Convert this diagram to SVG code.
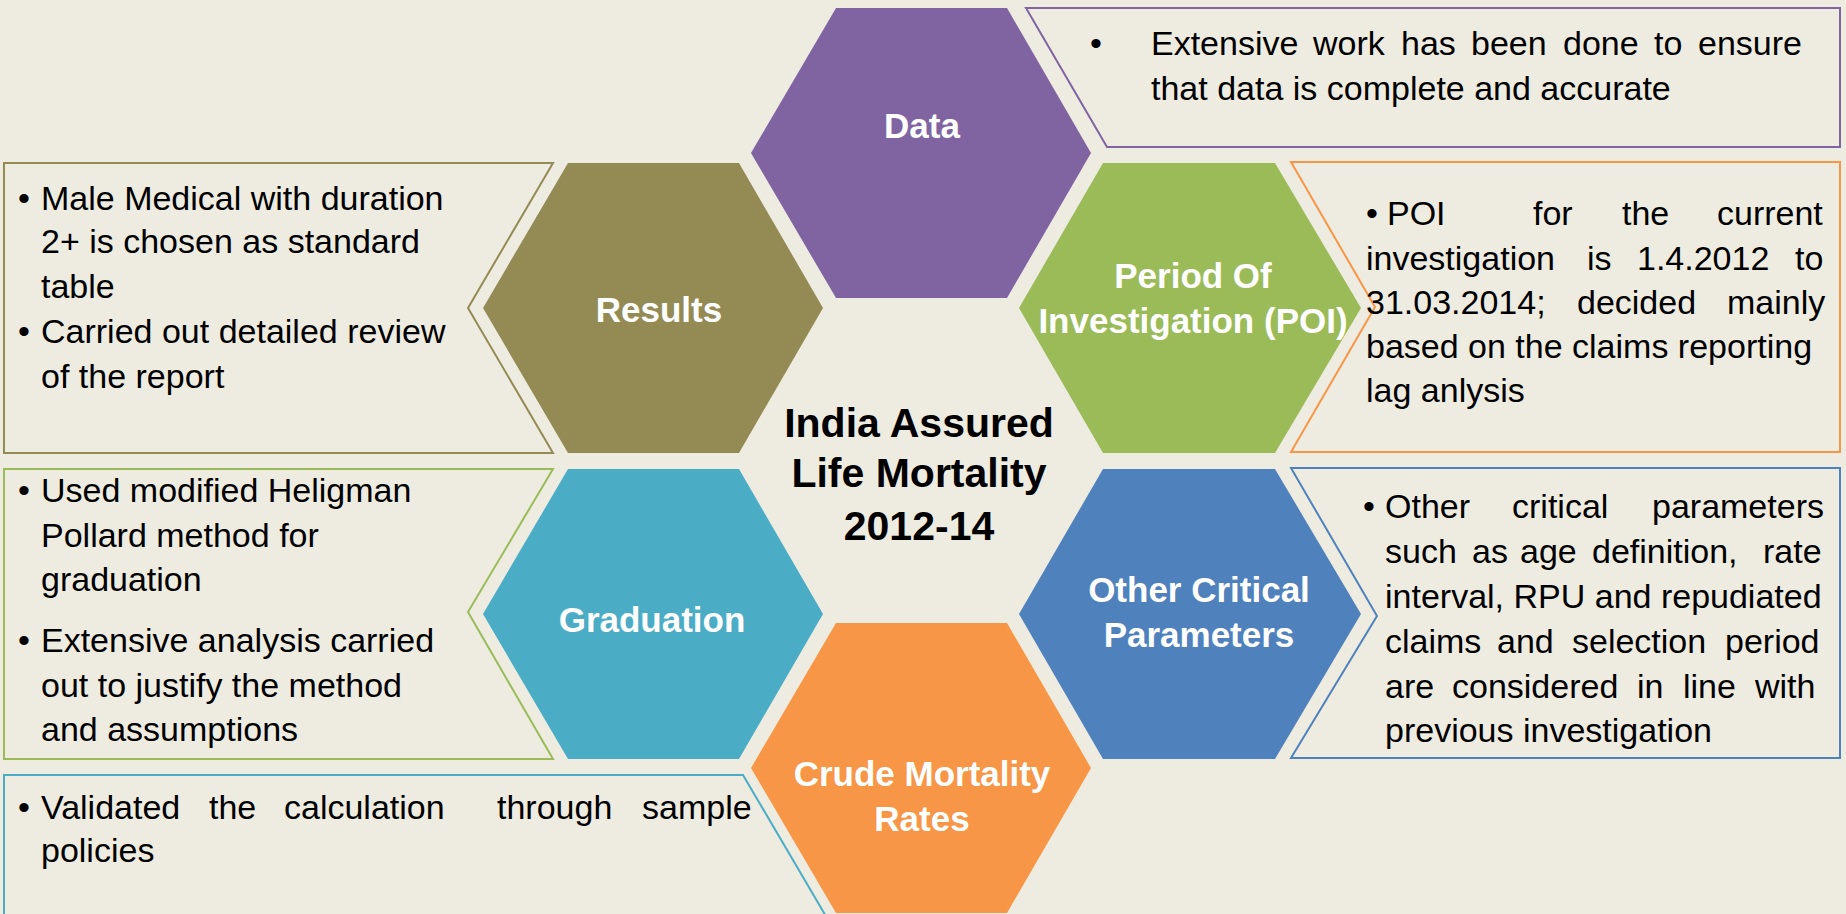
<svg xmlns="http://www.w3.org/2000/svg" width="1846" height="914" viewBox="0 0 1846 914">
  <style>
    .hex-label { font-family: "Liberation Sans", Arial, sans-serif; font-weight: bold; font-size: 35px; fill: #ffffff; text-anchor: middle; }
    .title { font-family: "Liberation Sans", Arial, sans-serif; font-weight: bold; font-size: 41px; fill: #000000; text-anchor: middle; }
    .body { font-family: "Liberation Sans", Arial, sans-serif; font-size: 34px; fill: #000000; }
    .box { fill: none; stroke-width: 2; }
  </style>
  <rect width="1846" height="914" fill="#EEECE1"/>

  <!-- hexagon nodes -->
  <g id="node-data">
    <polygon points="751,153 836,8 1007,8 1091,153 1007,298 836,298" fill="#8064A2"/>
    <text class="hex-label" x="922" y="138">Data</text>
  </g>
  <g id="node-poi">
    <polygon points="1019,308 1103,163 1275,163 1361,308 1275,453 1103,453" fill="#9BBB59"/>
    <text class="hex-label" x="1193" y="288">Period Of</text>
    <text class="hex-label" x="1193" y="333">Investigation (POI)</text>
  </g>
  <g id="node-results">
    <polygon points="483,308 568,163 739,163 823,308 739,453 568,453" fill="#948A54"/>
    <text class="hex-label" x="659" y="322">Results</text>
  </g>
  <g id="node-graduation">
    <polygon points="483,614 568,469 739,469 823,614 739,759 568,759" fill="#4BACC6"/>
    <text class="hex-label" x="652" y="632">Graduation</text>
  </g>
  <g id="node-other">
    <polygon points="1019,614 1103,469 1275,469 1361,614 1275,759 1103,759" fill="#4F81BD"/>
    <text class="hex-label" x="1199" y="602">Other Critical</text>
    <text class="hex-label" x="1199" y="647">Parameters</text>
  </g>
  <g id="node-crude">
    <polygon points="751,768 836,623 1007,623 1091,768 1007,913 836,913" fill="#F79646"/>
    <text class="hex-label" x="922" y="786">Crude Mortality</text>
    <text class="hex-label" x="922" y="831">Rates</text>
  </g>
  <g id="node-title">
    <text class="title" x="919" y="437">India Assured</text>
    <text class="title" x="919" y="487">Life Mortality</text>
    <text class="title" x="919" y="540">2012-14</text>
  </g>

  <!-- callout outlines -->
  <g id="connectors">
    <polygon class="box" stroke="#8064A2" points="1026,8 1840,8 1840,147 1107,147"/>
    <polygon class="box" stroke="#F79646" points="1291,162 1840,162 1840,452 1291,452 1375,307"/>
    <polygon class="box" stroke="#948A54" points="4,163 553,163 468,308 553,453 4,453"/>
    <polygon class="box" stroke="#9BBB59" points="4,469 553,469 468,612 553,759 4,759"/>
    <polygon class="box" stroke="#4F81BD" points="1291,468 1840,468 1840,758 1291,758 1377,616"/>
    <path class="box" stroke="#4BACC6" d="M4,918 L4,775 L743,775 L827,918"/>
  </g>

  <!-- callout text -->
  <g id="text-data" class="body">
    <text x="1090" y="55">•</text>
    <text x="1151" y="55">Extensive</text>
    <text x="1313" y="55">work</text>
    <text x="1401" y="55">has</text>
    <text x="1471" y="55">been</text>
    <text x="1563" y="55">done</text>
    <text x="1654" y="55">to</text>
    <text x="1698" y="55">ensure</text>
    <text x="1151" y="100">that data is complete and accurate</text>
  </g>
  <g id="text-poi" class="body">
    <text x="1366" y="225">•</text>
    <text x="1387" y="225">POI</text>
    <text x="1533" y="225">for</text>
    <text x="1622" y="225">the</text>
    <text x="1717" y="225">current</text>
    <text x="1366" y="270">investigation</text>
    <text x="1587" y="270">is</text>
    <text x="1637" y="270">1.4.2012</text>
    <text x="1795" y="270">to</text>
    <text x="1366" y="314">31.03.2014;</text>
    <text x="1577" y="314">decided</text>
    <text x="1727" y="314">mainly</text>
    <text x="1366" y="358">based on the claims reporting</text>
    <text x="1366" y="402">lag anlysis</text>
  </g>
  <g id="text-results" class="body">
    <text x="18" y="210">•</text>
    <text x="41" y="210">Male Medical with duration</text>
    <text x="41" y="253">2+ is chosen as standard</text>
    <text x="41" y="298">table</text>
    <text x="18" y="343">•</text>
    <text x="41" y="343">Carried out detailed review</text>
    <text x="41" y="388">of the report</text>
  </g>
  <g id="text-graduation" class="body">
    <text x="18" y="502">•</text>
    <text x="41" y="502">Used modified Heligman</text>
    <text x="41" y="547">Pollard method for</text>
    <text x="41" y="591">graduation</text>
    <text x="18" y="652">•</text>
    <text x="41" y="652">Extensive analysis carried</text>
    <text x="41" y="697">out to justify the method</text>
    <text x="41" y="741">and assumptions</text>
  </g>
  <g id="text-other" class="body">
    <text x="1363" y="518">•</text>
    <text x="1385" y="518">Other</text>
    <text x="1512" y="518">critical</text>
    <text x="1652" y="518">parameters</text>
    <text x="1385" y="563">such</text>
    <text x="1472" y="563">as</text>
    <text x="1520" y="563">age</text>
    <text x="1592" y="563">definition,</text>
    <text x="1763" y="563">rate</text>
    <text x="1385" y="608">interval, RPU and repudiated</text>
    <text x="1385" y="653">claims</text>
    <text x="1497" y="653">and</text>
    <text x="1572" y="653">selection</text>
    <text x="1725" y="653">period</text>
    <text x="1385" y="698">are</text>
    <text x="1452" y="698">considered</text>
    <text x="1637" y="698">in</text>
    <text x="1683" y="698">line</text>
    <text x="1755" y="698">with</text>
    <text x="1385" y="742">previous investigation</text>
  </g>
  <g id="text-crude" class="body">
    <text x="18" y="819">•</text>
    <text x="41" y="819">Validated</text>
    <text x="209" y="819">the</text>
    <text x="284" y="819">calculation</text>
    <text x="497" y="819">through</text>
    <text x="642" y="819">sample</text>
    <text x="41" y="862">policies</text>
  </g>
</svg>
